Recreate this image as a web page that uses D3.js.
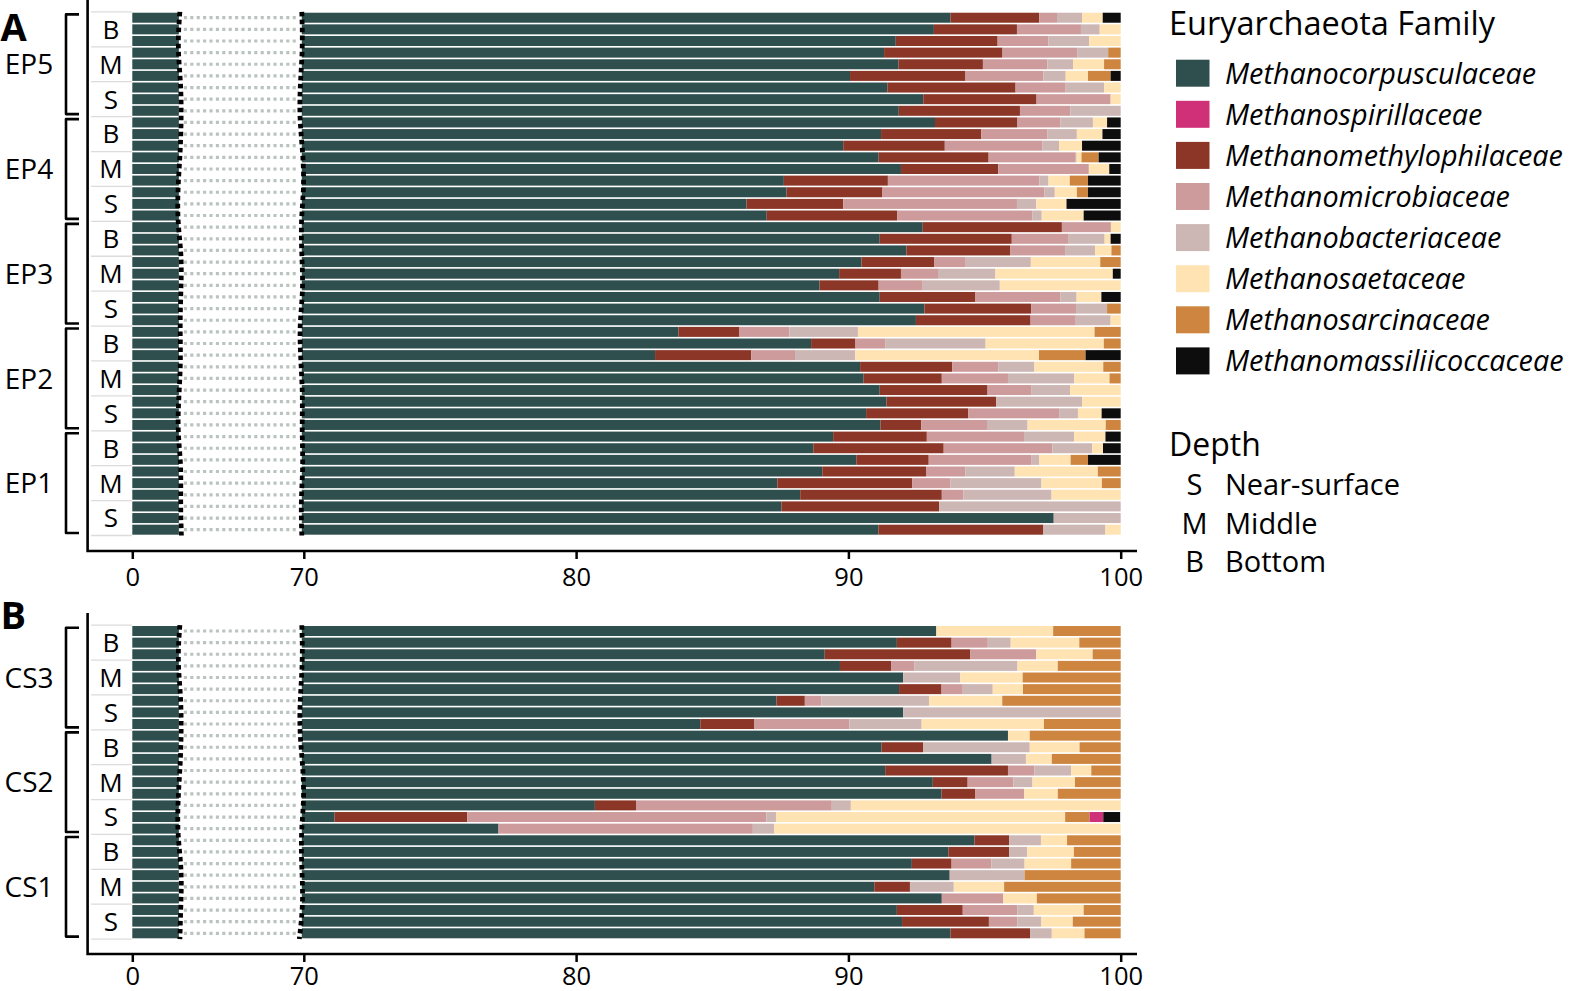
<!DOCTYPE html>
<html>
<head>
<meta charset="utf-8">
<script src="https://cdn.jsdelivr.net/npm/d3@7"></script>
<style>
  body { margin: 0; background: #fff; }
  svg { display: block; font-family: "Open Sans", sans-serif; }
</style>
</head>
<body>
<svg id="chart"></svg>
<script>
// Euryarchaeota family composition (%) per sample, broken x axis 0 | 70-100

const families = [
    "Methanocorpusculaceae", "Methanospirillaceae", "Methanomethylophilaceae", "Methanomicrobiaceae",
    "Methanobacteriaceae", "Methanosaetaceae", "Methanosarcinaceae", "Methanomassiliicoccaceae"
];
const familyColors = ["#2f4f4f", "#cf3077", "#8b3626", "#cd9b9b", "#cdb7b5", "#ffe3b3", "#cd853f", "#0d0d0d"];
// order in which the families are stacked inside a bar (index into families)
const stackKeys = [0, 2, 3, 4, 5, 6, 1, 7];

const depths = ["B", "M", "S"];
const depthLegend = [["S", "Near-surface"], ["M", "Middle"], ["B", "Bottom"]];
const replicates = [1, 2, 3];

const epSites = ["EP5", "EP4", "EP3", "EP2", "EP1"];
const csSites = ["CS3", "CS2", "CS1"];

const xTicks = [0, 70, 80, 90, 100];
const breakFrom = 18.6; // axis is cut between this value and 70

// one row per sample, top to bottom, values in the order of `families`
const epValues = [
    [93.75, 0, 3.26, 0.65, 0.92, 0.76, 0, 0.66],
    [93.14, 0, 3.05, 2.35, 0.69, 0.77, 0, 0],
    [91.74, 0, 3.74, 1.87, 1.49, 1.16, 0, 0],
    [91.31, 0, 4.35, 2.74, 1.14, 0, 0.46, 0],
    [91.84, 0, 3.10, 2.37, 0.94, 1.14, 0.61, 0],
    [90.06, 0, 4.24, 2.86, 0.82, 0.82, 0.83, 0.37],
    [91.43, 0, 4.71, 1.84, 1.42, 0.60, 0, 0],
    [92.75, 0, 4.16, 2.72, 0, 0.37, 0, 0],
    [91.85, 0, 4.45, 1.85, 1.85, 0, 0, 0],
    [93.18, 0, 3.03, 1.58, 1.19, 0.52, 0, 0.50],
    [91.20, 0, 3.68, 2.42, 1.09, 0.94, 0, 0.67],
    [89.81, 0, 3.73, 3.59, 0.61, 0.84, 0, 1.42],
    [91.11, 0, 4.04, 3.20, 0.03, 0.18, 0.63, 0.81],
    [91.93, 0, 3.57, 3.33, 0, 0.75, 0, 0.42],
    [87.63, 0, 3.82, 5.56, 0.34, 0.78, 0.67, 1.20],
    [87.73, 0, 3.52, 5.94, 0.39, 0.81, 0.41, 1.20],
    [86.26, 0, 3.55, 6.38, 0.71, 1.11, 0, 1.99],
    [87.00, 0, 4.79, 4.96, 0.35, 1.54, 0, 1.36],
    [92.73, 0, 5.11, 1.80, 0, 0.36, 0, 0],
    [91.15, 0, 4.85, 2.09, 1.32, 0.22, 0, 0.37],
    [92.13, 0, 3.82, 2.03, 1.08, 0.60, 0.34, 0],
    [90.48, 0, 2.68, 1.15, 2.39, 2.55, 0.75, 0],
    [89.66, 0, 2.27, 1.36, 2.11, 4.31, 0, 0.29],
    [88.94, 0, 2.17, 1.62, 2.83, 4.44, 0, 0],
    [91.15, 0, 3.50, 3.14, 0.59, 0.91, 0, 0.71],
    [92.79, 0, 3.92, 1.65, 1.14, 0, 0.50, 0],
    [92.48, 0, 4.21, 1.66, 1.28, 0.37, 0, 0],
    [83.76, 0, 2.24, 1.83, 2.52, 8.69, 0.96, 0],
    [88.63, 0, 1.63, 1.09, 3.69, 4.34, 0.62, 0],
    [82.90, 0, 3.53, 1.61, 2.21, 6.75, 1.71, 1.29],
    [90.43, 0, 3.38, 1.69, 1.33, 2.53, 0.64, 0],
    [90.56, 0, 2.87, 2.43, 2.43, 1.30, 0.41, 0],
    [91.15, 0, 3.96, 1.60, 1.43, 1.86, 0, 0],
    [91.40, 0, 4.03, 0, 3.15, 1.42, 0, 0],
    [90.65, 0, 3.75, 3.34, 0.69, 0.87, 0, 0.70],
    [91.18, 0, 1.50, 2.41, 1.49, 2.87, 0.55, 0],
    [89.44, 0, 3.44, 3.57, 1.84, 1.15, 0, 0.56],
    [88.71, 0, 4.79, 3.99, 1.46, 0.40, 0, 0.65],
    [90.29, 0, 2.66, 3.78, 0.27, 1.16, 0.64, 1.20],
    [89.04, 0, 3.81, 1.44, 1.82, 3.05, 0.84, 0],
    [87.39, 0, 4.95, 1.41, 3.34, 2.22, 0.69, 0],
    [88.23, 0, 5.20, 0.80, 3.23, 2.54, 0, 0],
    [87.54, 0, 5.79, 0, 6.67, 0, 0, 0],
    [97.54, 0, 0, 0, 2.46, 0, 0, 0],
    [91.10, 0, 6.06, 0, 2.28, 0.56, 0, 0]
];

const csValues = [
    [93.23, 0, 0, 0, 0, 4.29, 2.48, 0],
    [91.78, 0, 2.01, 1.33, 0.84, 2.52, 1.52, 0],
    [89.13, 0, 5.35, 2.42, 0, 2.07, 1.03, 0],
    [89.69, 0, 1.89, 0.85, 3.78, 1.48, 2.31, 0],
    [92.01, 0, 0, 0, 2.10, 2.29, 3.60, 0],
    [91.86, 0, 1.56, 0.78, 1.10, 1.11, 3.59, 0],
    [87.36, 0, 1.04, 0.61, 3.95, 2.69, 4.35, 0],
    [92.01, 0, 0, 0, 7.99, 0, 0, 0],
    [84.56, 0, 1.99, 3.49, 2.65, 4.49, 2.82, 0],
    [95.86, 0, 0, 0, 0, 0.80, 3.34, 0],
    [91.22, 0, 1.52, 0, 3.92, 1.83, 1.51, 0],
    [95.26, 0, 0, 0, 1.26, 0.95, 2.53, 0],
    [91.35, 0, 4.51, 0.97, 1.35, 0.74, 1.08, 0],
    [93.10, 0, 1.28, 1.68, 0.70, 1.56, 1.68, 0],
    [93.42, 0, 1.23, 1.81, 0, 1.23, 2.31, 0],
    [80.69, 0, 1.51, 7.19, 0.70, 9.91, 0, 0],
    [71.13, 0.50, 4.87, 10.99, 0.35, 10.62, 0.90, 0.62],
    [77.15, 0, 0, 9.34, 0.79, 12.72, 0, 0],
    [94.63, 0, 1.27, 0, 1.17, 0.96, 1.97, 0],
    [93.67, 0, 2.23, 0, 0.67, 1.71, 1.72, 0],
    [92.33, 0, 1.46, 1.46, 1.22, 1.71, 1.82, 0],
    [93.72, 0, 0, 0, 2.75, 0, 3.53, 0],
    [90.95, 0, 1.31, 0, 1.61, 1.85, 4.28, 0],
    [93.43, 0, 0, 2.26, 0, 1.23, 3.08, 0],
    [91.78, 0, 2.42, 2.01, 0.60, 1.83, 1.36, 0],
    [91.97, 0, 3.19, 1.05, 0.88, 1.15, 1.76, 0],
    [93.75, 0, 2.92, 0, 0.80, 1.20, 1.33, 0]
];

// hand-drawn look of the break marks (px offsets at each depth cell boundary)
const wiggleLeft = [0, -2.5, 1, 1.5, 0.5, -2, -2.5, 2, 1, 0, 1, -1, -2.5, 1.5, 0.5, 1.5];
const wiggleRight = [0, 1, -1.5, -2.5, 1, 2.5, -1, 0, 1.5, -2.5, -1, 1, 0, 1.5, -1, 0];

const svg = d3.select("#chart")
    .attr("width", 1594)
    .attr("height", 991);

const x = d3.scaleLinear()
    .domain([0, 70, 100])
    .range([132.3, 303.8, 1120.7]);

function drawPanel(p) {
    const ids = p.sites.flatMap(s => depths.flatMap(d => replicates.map(r => `${s}-${d}${r}`)));
    const rows = p.values.map((v, i) => ({ id: ids[i], values: v }));

    const y = d3.scaleBand()
        .domain(ids)
        .range([p.top, p.bottom])
        .paddingInner(0.14)
        .paddingOuter(0.07);
    const cellH = y.step() * 3;
    const nCells = p.sites.length * depths.length;

    const series = d3.stack()
        .keys(stackKeys)
        .value((d, k) => d.values[k])(rows);

    const g = svg.append("g");

    // stacked bars
    g.selectAll("g.series")
        .data(series)
        .join("g")
        .attr("class", "series")
        .attr("fill", s => familyColors[s.key])
        .selectAll("rect")
        .data(s => s.filter(d => d[1] - d[0] > 0))
        .join("rect")
        .attr("x", d => x(d[0]))
        .attr("width", d => x(d[1]) - x(d[0]))
        .attr("y", d => y(d.data.id))
        .attr("height", y.bandwidth());

    // axis break: blank out the cut part of every bar
    const bx0 = x(breakFrom), bx1 = x(70);
    g.append("rect")
        .attr("x", bx0 + 1)
        .attr("y", p.top - 1)
        .attr("width", bx1 - bx0 - 3)
        .attr("height", p.bottom - p.top + 2)
        .attr("fill", "#fff");

    g.selectAll("line.gap")
        .data(ids)
        .join("line")
        .attr("class", "gap")
        .attr("x1", bx0 + 6)
        .attr("x2", bx1 - 6)
        .attr("y1", d => y(d) + y.bandwidth() / 2)
        .attr("y2", d => y(d) + y.bandwidth() / 2)
        .attr("stroke", "#b9c3c0")
        .attr("stroke-width", 3.2)
        .attr("stroke-dasharray", "3.1 3.3");

    const breakLine = (cx, wig) => d3.line().curve(d3.curveBasis)(
        d3.range(nCells + 1).map(k => [cx + wig[k], p.top + k * cellH])
    );
    [[bx0 + 2, wiggleLeft], [bx1 - 2, wiggleRight]].forEach(([cx, wig]) => {
        g.append("path")
            .attr("d", breakLine(cx, wig))
            .attr("fill", "none")
            .attr("stroke", "#000")
            .attr("stroke-width", 4.8)
            .attr("stroke-dasharray", "4.5 3.5");
    });

    // depth cells
    g.selectAll("line.cell")
        .data(d3.range(nCells + 1))
        .join("line")
        .attr("class", "cell")
        .attr("x1", 91)
        .attr("x2", 132)
        .attr("y1", k => p.top + k * cellH)
        .attr("y2", k => p.top + k * cellH)
        .attr("stroke", "#dcdcdc")
        .attr("stroke-width", 1.3);

    g.selectAll("text.depth")
        .data(d3.range(nCells))
        .join("text")
        .attr("class", "depth")
        .attr("x", 111)
        .attr("y", k => p.top + (k + 0.5) * cellH)
        .attr("dy", "0.36em")
        .attr("text-anchor", "middle")
        .attr("font-size", 26)
        .text(k => depths[k % depths.length]);

    // site brackets and labels
    const siteH = cellH * depths.length;
    p.sites.forEach((s, i) => {
        const t = p.top + i * siteH + 2.5;
        const b = p.top + (i + 1) * siteH - 2.5;
        g.append("path")
            .attr("d", `M79,${t}H66V${b}H79`)
            .attr("fill", "none")
            .attr("stroke", "#000")
            .attr("stroke-width", 2.6)
            .attr("stroke-linejoin", "round");
        g.append("text")
            .attr("x", 29)
            .attr("y", (t + b) / 2)
            .attr("dy", "0.36em")
            .attr("text-anchor", "middle")
            .attr("font-size", 28)
            .text(s);
    });

    // x axis
    const ax = g.append("g")
        .attr("transform", `translate(0,${p.axisY})`)
        .call(d3.axisBottom(x).tickValues(xTicks).tickSize(8).tickPadding(p.tickPad).tickSizeOuter(0));
    ax.attr("font-family", null).attr("font-size", null);
    ax.select(".domain").remove();
    ax.selectAll(".tick line").attr("stroke", "#000").attr("stroke-width", 2.5);
    ax.selectAll(".tick text").attr("fill", "#000").attr("font-size", 25.5);

    g.append("path")
        .attr("d", `M87.6,${p.axisTop}V${p.axisY}H1137`)
        .attr("fill", "none")
        .attr("stroke", "#000")
        .attr("stroke-width", 2.6);

    g.append("text")
        .attr("x", 0.5)
        .attr("y", p.letterY)
        .attr("font-size", 38)
        .attr("font-weight", 700)
        .text(p.letter);
}

drawPanel({ letter: "A", sites: epSites, values: epValues, top: 11.9, bottom: 535.5, axisY: 551, axisTop: 0, letterY: 41, tickPad: 9 });
drawPanel({ letter: "B", sites: csSites, values: csValues, top: 625.2, bottom: 939.1, axisY: 954, axisTop: 613, letterY: 629, tickPad: 4.5 });

// legend: families
const legend = svg.append("g");
legend.append("text")
    .attr("x", 1169)
    .attr("y", 35)
    .attr("font-size", 32.5)
    .text("Euryarchaeota Family");

const item = legend.selectAll("g.item")
    .data(families)
    .join("g")
    .attr("class", "item")
    .attr("transform", (d, i) => `translate(1176,${73.2 + i * 41.1})`);
item.append("rect")
    .attr("x", 0)
    .attr("y", -13.5)
    .attr("width", 33.5)
    .attr("height", 27)
    .attr("fill", (d, i) => familyColors[i]);
item.append("text")
    .attr("x", 49)
    .attr("dy", "0.36em")
    .attr("font-size", 28.8)
    .attr("font-style", "italic")
    .text(d => d);

// legend: depth
legend.append("text")
    .attr("x", 1169)
    .attr("y", 456)
    .attr("font-size", 32)
    .text("Depth");

const dItem = legend.selectAll("g.ditem")
    .data(depthLegend)
    .join("g")
    .attr("class", "ditem")
    .attr("transform", (d, i) => `translate(0,${485 + i * 38.5})`);
dItem.append("text")
    .attr("x", 1194.5)
    .attr("dy", "0.36em")
    .attr("text-anchor", "middle")
    .attr("font-size", 29)
    .text(d => d[0]);
dItem.append("text")
    .attr("x", 1225)
    .attr("dy", "0.36em")
    .attr("font-size", 29)
    .text(d => d[1]);
</script>
</body>
</html>
